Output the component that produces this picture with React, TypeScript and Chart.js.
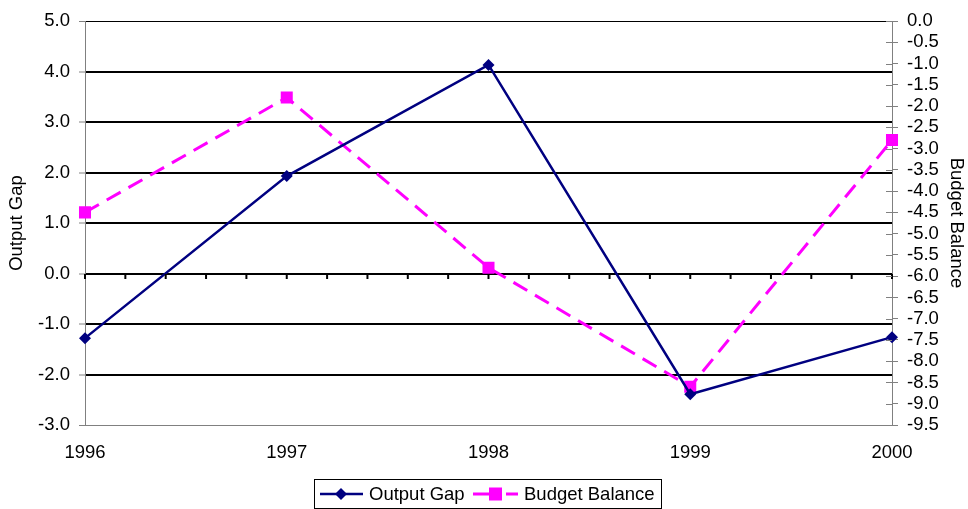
import React, { useEffect, useRef } from "react";
import Chart from "chart.js/auto";

const categories = ["1996", "1997", "1998", "1999", "2000"];
const outputGap = [-1.28, 1.93, 4.13, -2.39, -1.26];
const budgetBalance = [-4.5, -1.8, -5.8, -8.6, -2.8];
const leftTitle = "Output Gap";
const rightTitle = "Budget Balance";

const FONT = "'Liberation Sans', Arial, sans-serif";
const FS = 18.5;
const NAVY = "#000080";
const MAGENTA = "#FF00FF";
const GRAY = "#808080";

export default function App() {
  const ref = useRef<HTMLCanvasElement | null>(null);

  useEffect(() => {
    document.body.style.margin = "0";
    const canvas = ref.current;
    if (!canvas) return;

    const overlay = {
      id: "overlay",
      afterDraw(chart: any) {
        const ctx = chart.ctx as CanvasRenderingContext2D;
        const area = chart.chartArea;
        const y = chart.scales.y;
        const y1 = chart.scales.y1;
        ctx.save();
        // ticks on zero line
        const y0 = Math.round(y.getPixelForValue(0));
        ctx.strokeStyle = "#000";
        ctx.lineWidth = 2;
        for (let k = 0; k <= 20; k++) {
          const x = area.left + (k * (area.right - area.left)) / 20;
          ctx.beginPath();
          ctx.moveTo(x, y0);
          ctx.lineTo(x, y0 + 5);
          ctx.stroke();
        }
        // inner ticks of right axis
        ctx.strokeStyle = GRAY;
        ctx.lineWidth = 1;
        y1.ticks.forEach((t: any) => {
          const py = Math.round(y1.getPixelForValue(t.value)) + 0.5;
          ctx.beginPath();
          ctx.moveTo(area.right - 6, py);
          ctx.lineTo(area.right, py);
          ctx.stroke();
        });
        // titles
        ctx.fillStyle = "#000";
        ctx.font = `${FS}px ${FONT}`;
        ctx.textAlign = "center";
        ctx.textBaseline = "middle";
        const cy = (area.top + area.bottom) / 2;
        ctx.save();
        ctx.translate(17, cy);
        ctx.rotate(-Math.PI / 2);
        ctx.fillText(leftTitle, 0, 0);
        ctx.restore();
        ctx.save();
        ctx.translate(956, cy);
        ctx.rotate(Math.PI / 2);
        ctx.fillText(rightTitle, 0, 0);
        ctx.restore();
        // legend
        ctx.strokeStyle = "#000";
        ctx.lineWidth = 1;
        ctx.strokeRect(314.5, 479.5, 347, 29);
        const ly = 494;
        ctx.strokeStyle = NAVY;
        ctx.lineWidth = 2.5;
        ctx.beginPath();
        ctx.moveTo(320, ly);
        ctx.lineTo(363, ly);
        ctx.stroke();
        ctx.fillStyle = NAVY;
        ctx.beginPath();
        ctx.moveTo(341, ly - 6);
        ctx.lineTo(347, ly);
        ctx.lineTo(341, ly + 6);
        ctx.lineTo(335, ly);
        ctx.closePath();
        ctx.fill();
        ctx.strokeStyle = MAGENTA;
        ctx.lineWidth = 3;
        ctx.beginPath();
        ctx.moveTo(473, ly);
        ctx.lineTo(489, ly);
        ctx.moveTo(506, ly);
        ctx.lineTo(518, ly);
        ctx.stroke();
        ctx.fillStyle = MAGENTA;
        ctx.fillRect(489, ly - 6.5, 13, 13);
        ctx.fillStyle = "#000";
        ctx.textAlign = "left";
        ctx.fillText("Output Gap", 369, ly + 1);
        ctx.fillText("Budget Balance", 524, ly + 1);
        ctx.restore();
      },
    };

    const chart = new Chart(canvas, {
      type: "line",
      data: {
        labels: categories,
        datasets: [
          {
            label: "Output Gap",
            data: outputGap,
            yAxisID: "y",
            borderColor: NAVY,
            backgroundColor: NAVY,
            borderWidth: 2.5,
            pointStyle: "rectRot",
            pointRadius: 6,
            pointBorderWidth: 0,
            tension: 0,
          },
          {
            label: "Budget Balance",
            data: budgetBalance,
            yAxisID: "y1",
            borderColor: MAGENTA,
            backgroundColor: MAGENTA,
            borderWidth: 3,
            borderDash: [16, 9],
            pointStyle: "rect",
            pointRadius: 8.5,
            pointBorderWidth: 0,
            tension: 0,
          },
        ],
      },
      options: {
        responsive: false,
        animation: false,
        layout: { padding: { top: 21, left: 0, right: 0, bottom: 0 } },
        plugins: { legend: { display: false }, tooltip: { enabled: false } },
        scales: {
          x: {
            type: "category",
            offset: false,
            grid: { display: false, drawTicks: false, tickLength: 0 },
            border: { display: true, color: GRAY, width: 1 },
            ticks: {
              color: "#000",
              font: { family: FONT, size: FS },
              padding: 17,
              maxRotation: 0,
              autoSkip: false,
            },
            afterFit(scale: any) {
              scale.height = 84;
              scale.paddingLeft = 0;
              scale.paddingRight = 0;
            },
          },
          y: {
            position: "left",
            min: -3,
            max: 5,
            ticks: {
              stepSize: 1,
              color: "#000",
              font: { family: FONT, size: FS },
              padding: 9,
              callback: (v: any) => Number(v).toFixed(1),
            },
            grid: {
              color: (c: any) => (c.index === 0 ? GRAY : "#000"),
              lineWidth: (c: any) => (c.index === 0 || c.index === 8 ? 1 : 2),
              tickColor: GRAY,
              tickWidth: 1,
              tickLength: 6,
            },
            border: { display: true, color: GRAY, width: 1 },
            afterFit(scale: any) {
              scale.width = 85;
              scale.paddingTop = 0;
              scale.paddingBottom = 0;
            },
          },
          y1: {
            position: "right",
            min: -9.5,
            max: 0,
            ticks: {
              stepSize: 0.5,
              color: "#000",
              font: { family: FONT, size: FS },
              padding: 9,
              autoSkip: false,
              callback: (v: any) => Number(v).toFixed(1),
            },
            grid: {
              drawOnChartArea: false,
              tickColor: GRAY,
              tickWidth: 1,
              tickLength: 6,
            },
            border: { display: true, color: GRAY, width: 1 },
            afterFit(scale: any) {
              scale.width = 76;
              scale.paddingTop = 0;
              scale.paddingBottom = 0;
            },
          },
        },
      },
      plugins: [overlay],
    });

    return () => chart.destroy();
  }, []);

  return <canvas ref={ref} width={968} height={509} style={{ display: "block" }} />;
}
